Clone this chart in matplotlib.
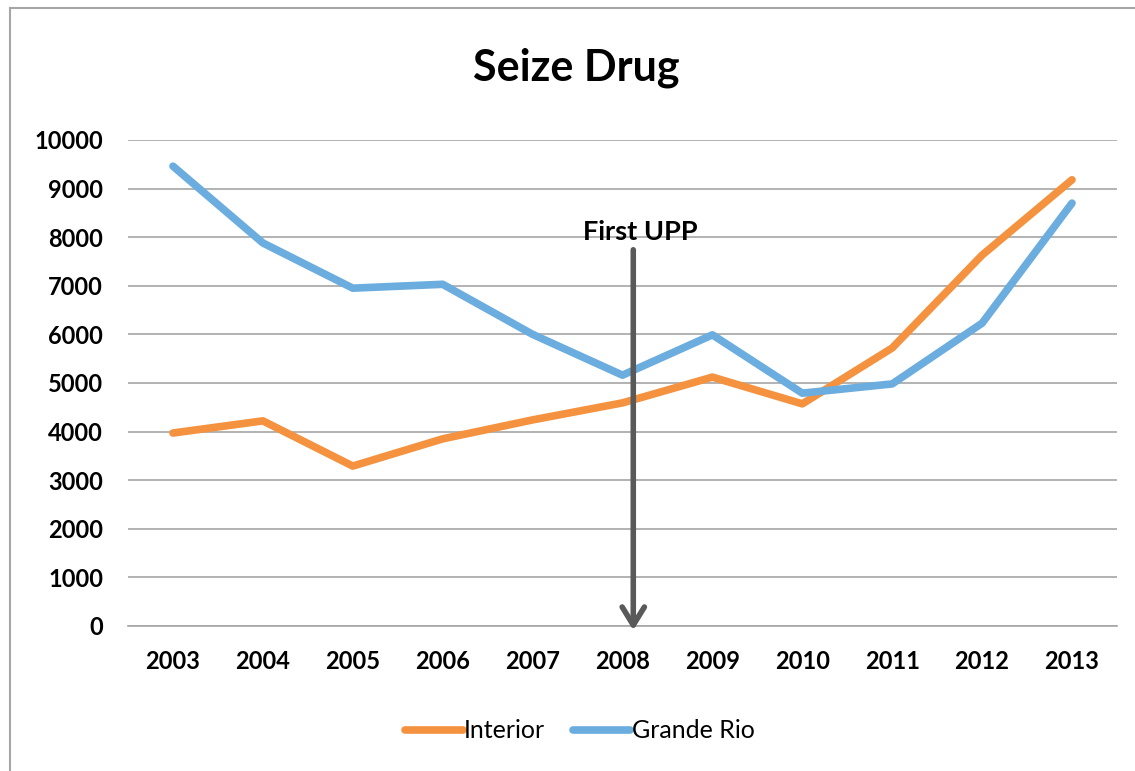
import matplotlib
matplotlib.use("Agg")
import matplotlib.pyplot as plt
from matplotlib.lines import Line2D

years = ["2003", "2004", "2005", "2006", "2007", "2008", "2009", "2010", "2011", "2012", "2013"]
interior = [3970, 4220, 3290, 3850, 4240, 4590, 5120, 4570, 5720, 7630, 9180]
grande_rio = [9460, 7880, 6950, 7030, 6000, 5160, 5990, 4790, 4980, 6230, 8700]
y_ticks = [0, 1000, 2000, 3000, 4000, 5000, 6000, 7000, 8000, 9000, 10000]

plt.rcParams['font.family'] = ['Lato', 'DejaVu Sans']

fig = plt.figure(figsize=(11.35, 7.71), dpi=100)
ax = fig.add_axes([0.1128, 0.1881, 0.8713, 0.6304])

x = range(len(years))
ax.plot(x, interior, color='#F4923F', lw=5.5, solid_capstyle='round',
        solid_joinstyle='round', label='Interior', zorder=3)
ax.plot(x, grande_rio, color='#6AADDE', lw=5.5, solid_capstyle='round',
        solid_joinstyle='round', label='Grande Rio', zorder=3)

ax.set_xlim(-0.5, len(years) - 0.5)
ax.set_ylim(0, 10000)
ax.set_yticks(y_ticks)
ax.set_yticklabels([str(v) for v in y_ticks], fontsize=17, fontweight='bold')
ax.set_xticks(list(x))
ax.set_xticklabels(years, fontsize=17, fontweight='bold')
ax.tick_params(length=0)
ax.tick_params(axis='x', pad=17)
ax.tick_params(axis='y', pad=18)
ax.grid(axis='y', color='#A6A6A6', lw=1.2)
ax.set_axisbelow(True)
for s in ['left', 'right', 'top']:
    ax.spines[s].set_visible(False)
ax.spines['bottom'].set_color('#A6A6A6')
ax.spines['bottom'].set_linewidth(1.2)

# "First UPP" marker
ax.annotate('', xy=(5.12, -90), xytext=(5.12, 7740),
            arrowprops=dict(arrowstyle='->,head_length=1.3,head_width=0.8',
                            color='#595959', lw=4, shrinkA=0, shrinkB=0),
            zorder=4, annotation_clip=False)
ax.text(5.2, 8100, 'First UPP', fontsize=19.5, fontweight='bold',
        ha='center', va='center', zorder=5)

fig.text(0.508, 0.912, 'Seize Drug', fontsize=31, fontweight='bold',
         ha='center', va='center')

fig.legend(loc='center', bbox_to_anchor=(0.511, 0.052), ncol=2, frameon=False,
           fontsize=18, handlelength=2.3, handletextpad=0.05, columnspacing=1.1)

# chart frame (left and top edges visible)
fig.add_artist(Line2D([0.0085, 0.0085], [0.0, 0.99], color='#A6A6A6', lw=1.5,
                      transform=fig.transFigure))
fig.add_artist(Line2D([0.0085, 1.0], [0.99, 0.99], color='#A6A6A6', lw=1.5,
                      transform=fig.transFigure))

fig.savefig('out.png', dpi=100, facecolor='white')
